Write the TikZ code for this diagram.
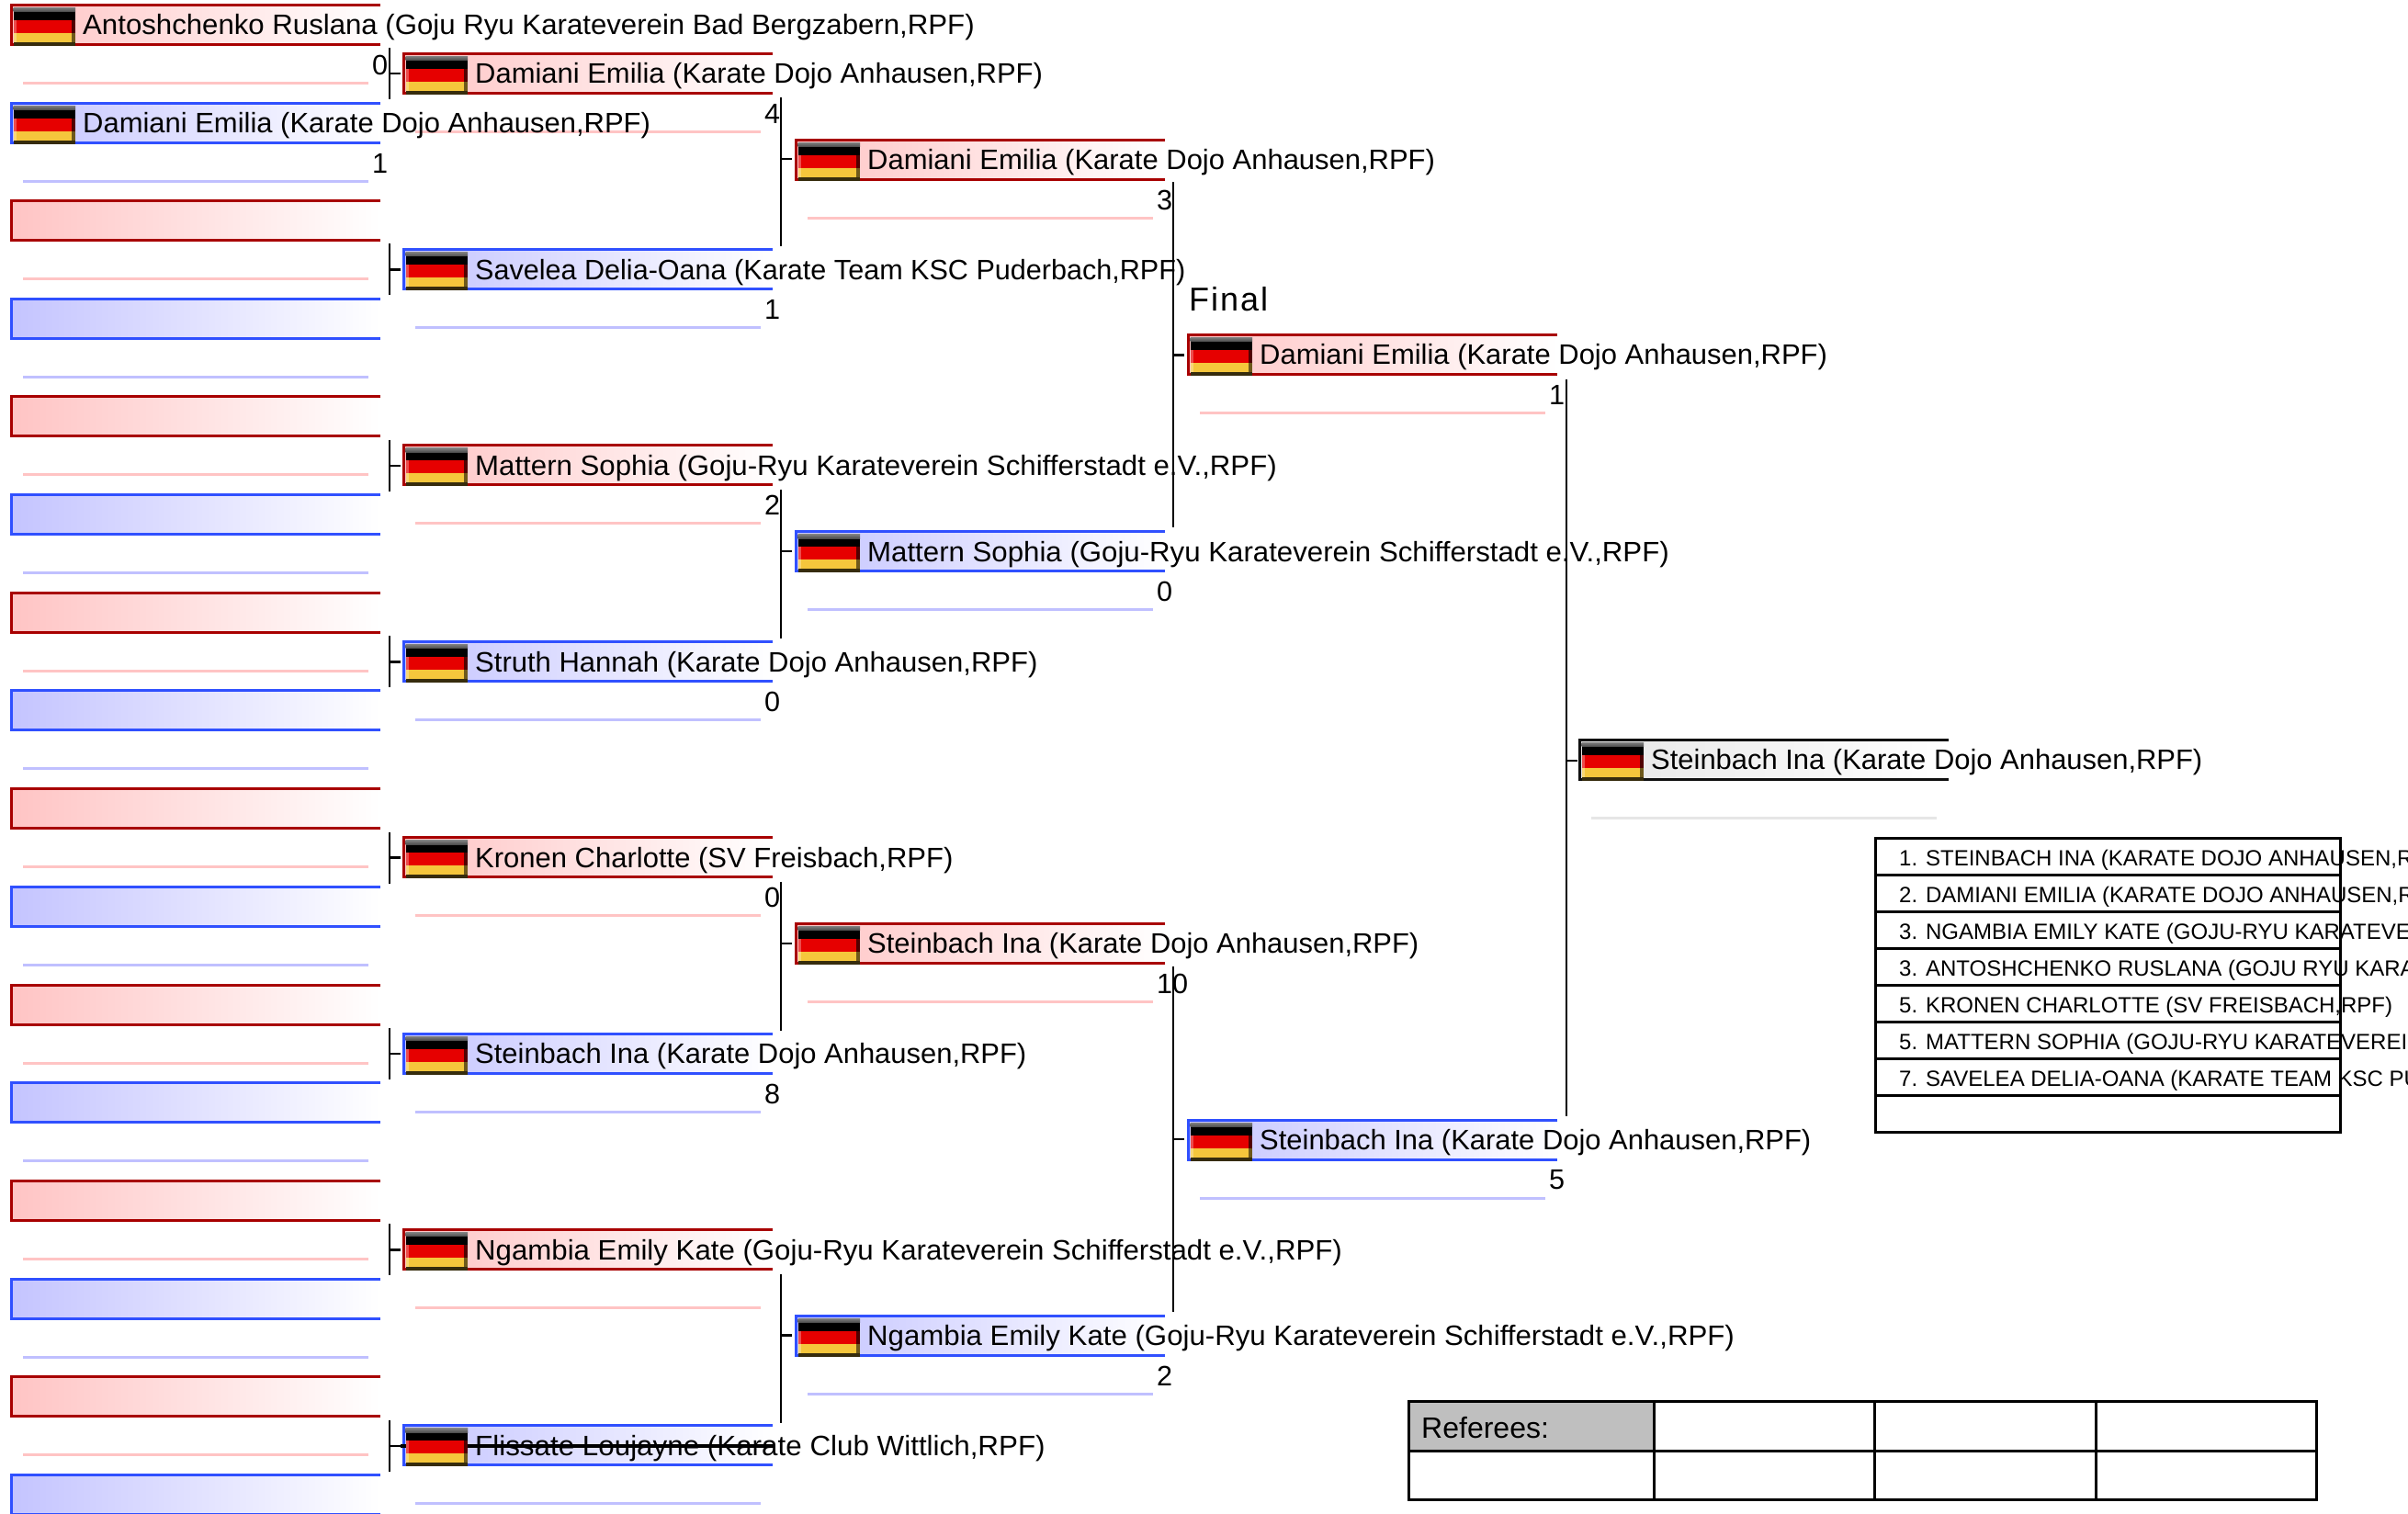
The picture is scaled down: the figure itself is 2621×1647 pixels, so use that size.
\documentclass[tikz,border=0pt]{standalone}
\usepackage{graphicx}
\usepackage{fontspec}
\setmainfont{Liberation Sans}
\definecolor{rline}{HTML}{A80000}
\definecolor{bline}{HTML}{3050FF}
\definecolor{gline}{HTML}{101010}
\definecolor{rfill}{HTML}{FFC4C4}
\definecolor{bfill}{HTML}{C4C4FF}
\definecolor{gfill}{HTML}{E6E6E6}
\definecolor{rpale}{HTML}{FFC4C4}
\definecolor{bpale}{HTML}{C0C0FF}
\definecolor{gpale}{HTML}{E6E6E6}
\definecolor{flagred}{HTML}{E60000}
\definecolor{flaggold}{HTML}{F5C63C}
\newcommand{\namefont}{\fontsize{30.6pt}{32pt}\selectfont}
\newcommand{\rankfont}{\fontsize{24pt}{26pt}\selectfont}
\newcommand{\sx}[2]{\scalebox{#1}[1]{#2}}
\newcommand{\tAnt}{\sx{1.019}{Antoshchenko Ruslana (Goju Ryu Karateverein Bad Bergzabern,RPF)}}
\newcommand{\tDam}{\sx{1.012}{Damiani Emilia (Karate Dojo Anhausen,RPF)}}
\newcommand{\tSav}{\sx{0.999}{Savelea Delia-Oana (Karate Team KSC Puderbach,RPF)}}
\newcommand{\tMat}{\sx{1.02}{Mattern Sophia (Goju-Ryu Karateverein Schifferstadt e.V.,RPF)}}
\newcommand{\tStr}{\sx{1.014}{Struth Hannah (Karate Dojo Anhausen,RPF)}}
\newcommand{\tKro}{\sx{1.013}{Kronen Charlotte (SV Freisbach,RPF)}}
\newcommand{\tSte}{\sx{1.011}{Steinbach Ina (Karate Dojo Anhausen,RPF)}}
\newcommand{\tNga}{\sx{1.02}{Ngambia Emily Kate (Goju-Ryu Karateverein Schifferstadt e.V.,RPF)}}
\newcommand{\tFli}{\sx{1.025}{Flissate Loujayne (Karate Club Wittlich,RPF)}}
\tikzset{
  x=1pt,y=-1pt,
  entryline/.style={line width=3pt},
  paleline/.style={line width=3pt},
  bracket/.style={draw=black,line width=2.6pt},
  rule/.style={draw=black,line width=3pt},
  nametext/.style={anchor=west,inner sep=0pt,font=\namefont,text=black},
  scoretext/.style={anchor=west,inner sep=0pt,font=\namefont,text=black},
  ranktext/.style={anchor=west,inner sep=0pt,font=\rankfont,text=black},
}
% #1 x, #2 top y, #3 colour prefix
\newcommand{\slot}[3]{%
  \shade[left color=#3fill,right color=white] (#1,#2) rectangle ++(402,43);
  \draw[entryline,draw=#3line] (#1+402,#2) -- ++(-402,0) -- ++(0,43) -- ++(402,0);
  \draw[paleline,draw=#3pale] (#1+13,#2+85) -- (#1+389,#2+85);
}
% flag at box x #1, top #2
\newcommand{\flagat}[2]{%
  \begin{scope}[shift={(#1+2.5,#2+3)}]
    \fill[black] (0,0) rectangle (67.5,41.5);
    \shade[top color=black!50,bottom color=black!70] (0,0) rectangle (67.5,4.5);
    \fill[flagred] (0,13.5) rectangle (67.5,27.5);
    \fill[flaggold] (0,27.5) rectangle (67.5,37.5);
    \fill[black!78!flaggold] (0,37.5) rectangle (67.5,41.5);
    \fill[black!65!flagred] (63.5,13.5) rectangle (67.5,27.5);
    \fill[black!55!flaggold] (63.5,27.5) rectangle (67.5,37.5);
    \fill[flagred!70!white] (0,13.5) rectangle (3.5,27.5);
    \fill[flaggold!70!white] (0,27.5) rectangle (3.5,37.5);
  \end{scope}%
}
% #1 node name, #2 x, #3 top, #4 colour, #5 text, #6 score
\newcommand{\entry}[6]{%
  \slot{#2}{#3}{#4}%
  \flagat{#2}{#3}%
  \node[nametext] (#1) at (#2+78,#3+25) {#5};
  \node[scoretext] (#1s) at (#2+393,#3+65.5) {#6};
}
\newcommand{\bracketat}[5]{% name, x, ytop, ybot, ytick ; tick length 12
  \coordinate (#1t) at (#2,#3);
  \coordinate (#1b) at (#2,#4);
  \coordinate (#1m) at (#2,#5);
  \coordinate (#1e) at (#2+12,#5);
  \draw[bracket] (#1t) -- (#1b);
  \draw[bracket] (#1m) -- (#1e);
}
\begin{document}
\begin{tikzpicture}
\useasboundingbox (0,0) rectangle (2621,1647);
\fill[white] (0,0) rectangle (2621,1647);
\clip (0,0) rectangle (2621,1647);

% connectors
\foreach \j in {0,...,7} {
  \pgfmathsetmacro\yy{52+213.4*\j}
  \bracketat{c\j}{424}{\yy}{\yy+56}{\yy+28}
}
\foreach \j in {0,...,3} {
  \pgfmathsetmacro\yy{106+426.9*\j}
  \bracketat{d\j}{850}{\yy}{\yy+162}{\yy+67}
}
\bracketat{e0}{1277}{198}{574}{386.5}
\bracketat{e1}{1277}{1052}{1428}{1240}
\bracketat{f0}{1705}{413}{1215}{828}

% first round, empty slots
\foreach \k/\c in {2/r,3/b,4/r,5/b,6/r,7/b,8/r,9/b,10/r,11/b,12/r,13/b,14/r,15/b} {
  \pgfmathsetmacro\yy{5+106.7*\k}
  \slot{12}{\yy}{\c}
}

% second round
\entry{b0}{439}{58}{r}{\tDam}{4}
\entry{b1}{439}{271.4}{b}{\tSav}{1}
\entry{b2}{439}{484.8}{r}{\tMat}{2}
\entry{b3}{439}{698.2}{b}{\tStr}{0}
\entry{b4}{439}{911.6}{r}{\tKro}{0}
\entry{b5}{439}{1125}{b}{\tSte}{8}
\entry{b6}{439}{1338.4}{r}{\tNga}{}
\entry{b7}{439}{1551.8}{b}{\tFli}{}
% line across the last entry
\coordinate (gs) at (436,1574);
\coordinate (ge) at (842,1574);
\draw[line width=4pt,draw=black] (gs) -- (ge);
\flagat{439}{1551.8}

% first round, named slots (their text lies over the second round)
\entry{a0}{12}{5}{r}{\tAnt}{0}
\entry{a1}{12}{112}{b}{\tDam}{1}

% third round
\entry{g0}{866}{152}{r}{\tDam}{3}
\entry{g1}{866}{578.5}{b}{\tMat}{0}
\entry{g2}{866}{1005}{r}{\tSte}{10}
\entry{g3}{866}{1432}{b}{\tNga}{2}

% fourth round
\node[anchor=west,inner sep=0pt,font=\fontsize{36pt}{38pt}\selectfont\addfontfeature{LetterSpace=5.5},text=black] (finallabel) at (1294,326) {Final};
\entry{h0}{1293}{364}{r}{\tDam}{1}
\entry{h1}{1293}{1219}{b}{\tSte}{5}

% winner
\entry{w}{1719}{805}{g}{\tSte}{}

% ranking
\node[ranktext] (r1) at (2067,936.5) {1. STEINBACH INA (KARATE DOJO ANHAUSEN,RPF)};
\node[ranktext] (r2) at (2067,976.5) {2. DAMIANI EMILIA (KARATE DOJO ANHAUSEN,RPF)};
\node[ranktext] (r3) at (2067,1016.5) {3. NGAMBIA EMILY KATE (GOJU-RYU KARATEVEREIN SCHIFFERSTADT E.V.,RPF)};
\node[ranktext] (r4) at (2067,1056.5) {3. ANTOSHCHENKO RUSLANA (GOJU RYU KARATEVEREIN BAD BERGZABERN,RPF)};
\node[ranktext] (r5) at (2067,1096.5) {5. KRONEN CHARLOTTE (SV FREISBACH,RPF)};
\node[ranktext] (r6) at (2067,1136.5) {5. MATTERN SOPHIA (GOJU-RYU KARATEVEREIN SCHIFFERSTADT E.V.,RPF)};
\node[ranktext] (r7) at (2067,1176.5) {7. SAVELEA DELIA-OANA (KARATE TEAM KSC PUDERBACH,RPF)};
\draw[rule] (2041,912) rectangle (2547,1232);
\foreach \yy in {952,992,1032,1072,1112,1152,1192} \draw[rule] (2041,\yy) -- (2547,\yy);

% referees
\fill[black!25] (1533,1525) rectangle (1800,1579);
\draw[rule] (1533,1525) rectangle (2521,1632);
\draw[rule] (1533,1579) -- (2521,1579);
\foreach \xx in {1800,2040.5,2281} \draw[rule] (\xx,1525) -- (\xx,1632);
\node[anchor=west,inner sep=0pt,font=\fontsize{32pt}{34pt}\selectfont,text=black] (ref) at (1547,1554.5) {Referees:};
\end{tikzpicture}
\end{document}
